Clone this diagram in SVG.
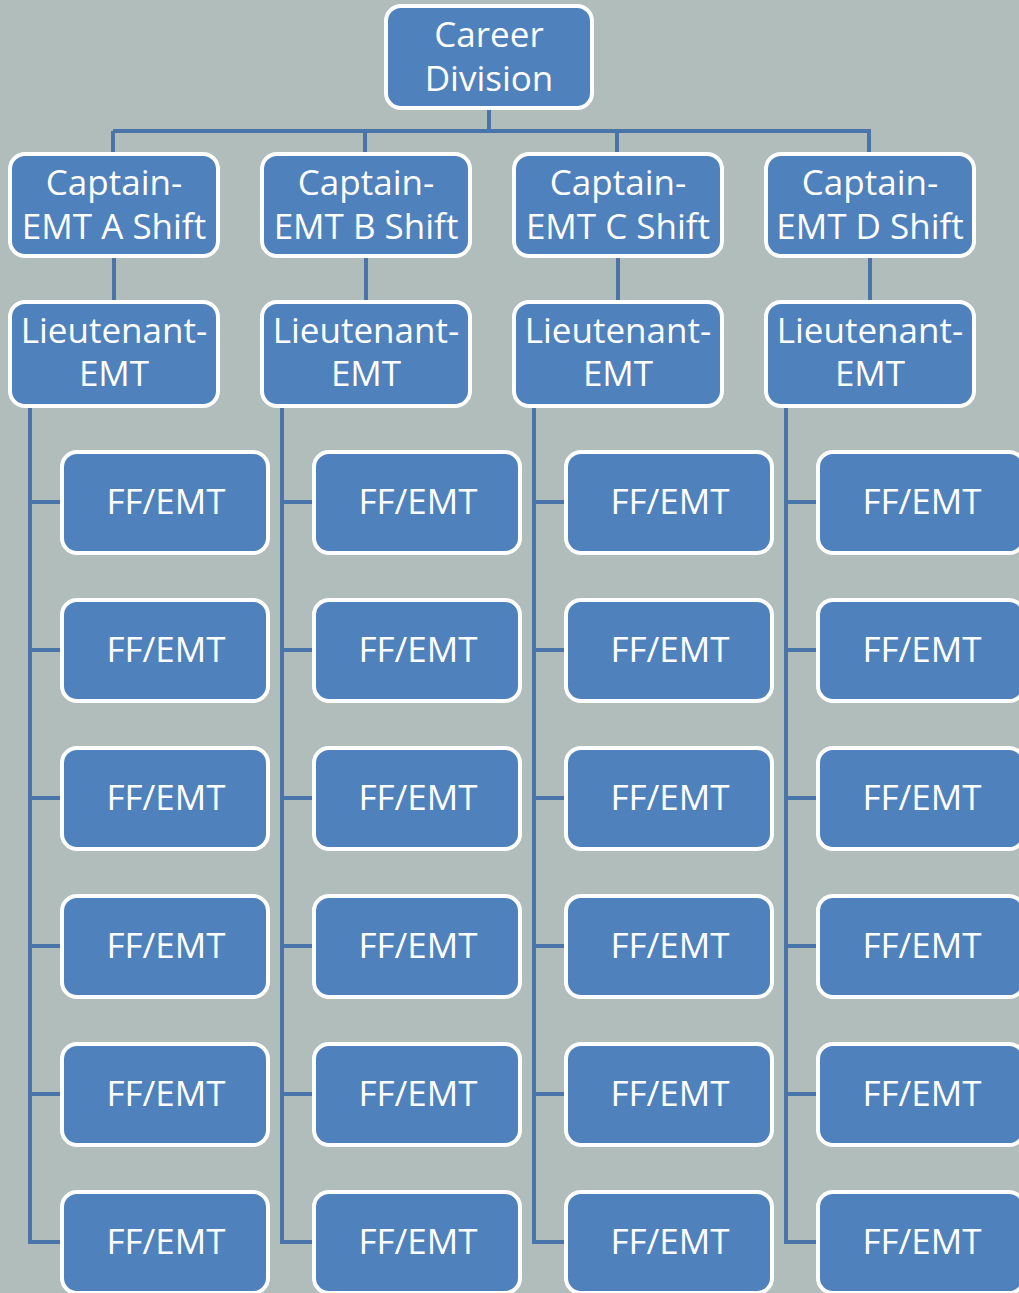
<svg xmlns="http://www.w3.org/2000/svg" width="1019" height="1293" viewBox="0 0 1019 1293">
<style>
.box{fill:#4f81bd;stroke:#ffffff;stroke-width:4}
.t{font-family:"Open Sans","Noto Sans",sans-serif;font-size:35px;fill:#ffffff;text-anchor:middle}
.c{fill:none;stroke:#4a75aa;stroke-width:4}
</style>
<rect width="1019" height="1293" fill="#b0bdbb"/>
<g id="connectors">
<path class="c" d="M489 110V131M113 131H871M113 131V152M365 131V152M617 131V152M869 131V152"/>
<path class="c" d="M114 258V300M366 258V300M618 258V300M870 258V300"/>
<path class="c" d="M30 408V1242H60M30 502H60M30 650H60M30 798H60M30 946H60M30 1094H60"/>
<path class="c" d="M282 408V1242H312M282 502H312M282 650H312M282 798H312M282 946H312M282 1094H312"/>
<path class="c" d="M534 408V1242H564M534 502H564M534 650H564M534 798H564M534 946H564M534 1094H564"/>
<path class="c" d="M786 408V1242H816M786 502H816M786 650H816M786 798H816M786 946H816M786 1094H816"/>
</g>
<g id="career"><rect class="box" x="386" y="6" width="206" height="102" rx="15"/><text class="t" x="489" y="47">Career</text><text class="t" x="489" y="91">Division</text></g>
<g id="capA"><rect class="box" x="10" y="154" width="208" height="102" rx="15"/><text class="t" x="114" y="195">Captain-</text><text class="t" x="114" y="239">EMT A Shift</text></g>
<g id="capB"><rect class="box" x="262" y="154" width="208" height="102" rx="15"/><text class="t" x="366" y="195">Captain-</text><text class="t" x="366" y="239">EMT B Shift</text></g>
<g id="capC"><rect class="box" x="514" y="154" width="208" height="102" rx="15"/><text class="t" x="618" y="195">Captain-</text><text class="t" x="618" y="239">EMT C Shift</text></g>
<g id="capD"><rect class="box" x="766" y="154" width="208" height="102" rx="15"/><text class="t" x="870" y="195">Captain-</text><text class="t" x="870" y="239">EMT D Shift</text></g>
<g id="ltA"><rect class="box" x="10" y="302" width="208" height="104" rx="15"/><text class="t" x="114" y="343">Lieutenant-</text><text class="t" x="114" y="386">EMT</text></g>
<g id="ltB"><rect class="box" x="262" y="302" width="208" height="104" rx="15"/><text class="t" x="366" y="343">Lieutenant-</text><text class="t" x="366" y="386">EMT</text></g>
<g id="ltC"><rect class="box" x="514" y="302" width="208" height="104" rx="15"/><text class="t" x="618" y="343">Lieutenant-</text><text class="t" x="618" y="386">EMT</text></g>
<g id="ltD"><rect class="box" x="766" y="302" width="208" height="104" rx="15"/><text class="t" x="870" y="343">Lieutenant-</text><text class="t" x="870" y="386">EMT</text></g>
<g id="ffA1"><rect class="box" x="62" y="452" width="206" height="101" rx="15"/><text class="t" x="166" y="514">FF/EMT</text></g>
<g id="ffA2"><rect class="box" x="62" y="600" width="206" height="101" rx="15"/><text class="t" x="166" y="662">FF/EMT</text></g>
<g id="ffA3"><rect class="box" x="62" y="748" width="206" height="101" rx="15"/><text class="t" x="166" y="810">FF/EMT</text></g>
<g id="ffA4"><rect class="box" x="62" y="896" width="206" height="101" rx="15"/><text class="t" x="166" y="958">FF/EMT</text></g>
<g id="ffA5"><rect class="box" x="62" y="1044" width="206" height="101" rx="15"/><text class="t" x="166" y="1106">FF/EMT</text></g>
<g id="ffA6"><rect class="box" x="62" y="1192" width="206" height="101" rx="15"/><text class="t" x="166" y="1254">FF/EMT</text></g>
<g id="ffB1"><rect class="box" x="314" y="452" width="206" height="101" rx="15"/><text class="t" x="418" y="514">FF/EMT</text></g>
<g id="ffB2"><rect class="box" x="314" y="600" width="206" height="101" rx="15"/><text class="t" x="418" y="662">FF/EMT</text></g>
<g id="ffB3"><rect class="box" x="314" y="748" width="206" height="101" rx="15"/><text class="t" x="418" y="810">FF/EMT</text></g>
<g id="ffB4"><rect class="box" x="314" y="896" width="206" height="101" rx="15"/><text class="t" x="418" y="958">FF/EMT</text></g>
<g id="ffB5"><rect class="box" x="314" y="1044" width="206" height="101" rx="15"/><text class="t" x="418" y="1106">FF/EMT</text></g>
<g id="ffB6"><rect class="box" x="314" y="1192" width="206" height="101" rx="15"/><text class="t" x="418" y="1254">FF/EMT</text></g>
<g id="ffC1"><rect class="box" x="566" y="452" width="206" height="101" rx="15"/><text class="t" x="670" y="514">FF/EMT</text></g>
<g id="ffC2"><rect class="box" x="566" y="600" width="206" height="101" rx="15"/><text class="t" x="670" y="662">FF/EMT</text></g>
<g id="ffC3"><rect class="box" x="566" y="748" width="206" height="101" rx="15"/><text class="t" x="670" y="810">FF/EMT</text></g>
<g id="ffC4"><rect class="box" x="566" y="896" width="206" height="101" rx="15"/><text class="t" x="670" y="958">FF/EMT</text></g>
<g id="ffC5"><rect class="box" x="566" y="1044" width="206" height="101" rx="15"/><text class="t" x="670" y="1106">FF/EMT</text></g>
<g id="ffC6"><rect class="box" x="566" y="1192" width="206" height="101" rx="15"/><text class="t" x="670" y="1254">FF/EMT</text></g>
<g id="ffD1"><rect class="box" x="818" y="452" width="206" height="101" rx="15"/><text class="t" x="922" y="514">FF/EMT</text></g>
<g id="ffD2"><rect class="box" x="818" y="600" width="206" height="101" rx="15"/><text class="t" x="922" y="662">FF/EMT</text></g>
<g id="ffD3"><rect class="box" x="818" y="748" width="206" height="101" rx="15"/><text class="t" x="922" y="810">FF/EMT</text></g>
<g id="ffD4"><rect class="box" x="818" y="896" width="206" height="101" rx="15"/><text class="t" x="922" y="958">FF/EMT</text></g>
<g id="ffD5"><rect class="box" x="818" y="1044" width="206" height="101" rx="15"/><text class="t" x="922" y="1106">FF/EMT</text></g>
<g id="ffD6"><rect class="box" x="818" y="1192" width="206" height="101" rx="15"/><text class="t" x="922" y="1254">FF/EMT</text></g>
</svg>
